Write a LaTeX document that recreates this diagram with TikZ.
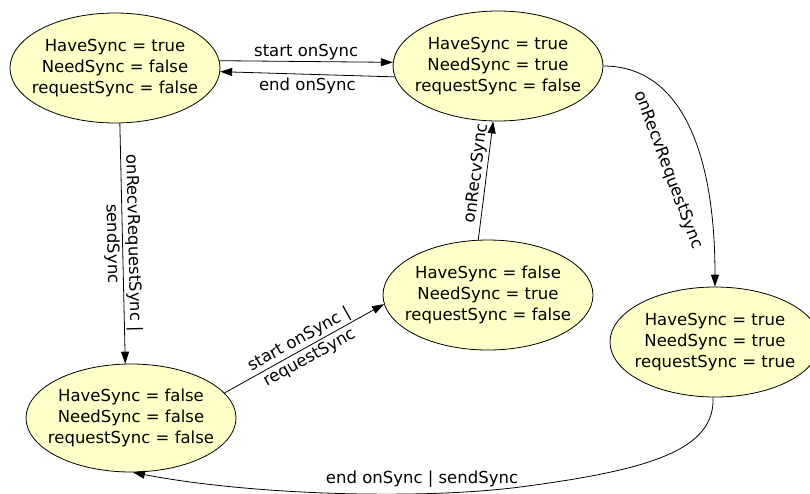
\documentclass[tikz,border=0pt]{standalone}
\usepackage{fontspec}
\setmainfont{DejaVu Sans}
\usetikzlibrary{shapes.geometric,arrows.meta}
\definecolor{statefill}{RGB}{255,255,200}
\begin{document}
\begin{tikzpicture}[x=1pt,y=-1pt,
  every node/.style={font=\fontsize{16.5}{21}\selectfont},
  state/.style={ellipse,draw,line width=0.8pt,fill=statefill,
    minimum width=210pt,minimum height=110pt,inner xsep=-14pt,inner ysep=0pt,align=center},
  trans/.style={draw,line width=0.8pt,-{Triangle[length=12pt,width=8pt]}},
  lbl/.style={inner sep=1.5pt,align=center}]
\useasboundingbox (0,0) rectangle (810,493);
\clip (0,0) rectangle (810,493);

% states
\node[state] (A) at (115,68)  {HaveSync = true\\NeedSync = false\\requestSync = false};
\node[state] (B) at (498,66)  {HaveSync = true\\NeedSync = true\\requestSync = false};
\node[state] (C) at (488,295) {HaveSync = false\\NeedSync = true\\requestSync = false};
\node[state] (D) at (715,342) {HaveSync = true\\NeedSync = true\\requestSync = true};
\node[state,minimum height=108pt] (E) at (131,418) {HaveSync = false\\NeedSync = false\\requestSync = false};

% transitions
\draw[trans] (A.4) -- node[lbl,above] (lAB) {start onSync} (B.178);
\draw[trans] (B.186) -- node[lbl,below,inner sep=3pt] (lBA) {end onSync} (A.-2);
\draw[trans] (A.-85) -- node[lbl,sloped] (lAE) {onRecvRequestSync |\\sendSync} (E.96);
\draw[trans] (E.15) -- node[lbl,sloped] (lEC) {start onSync |\\requestSync} (C.185);
\draw[trans] (C.100) -- node[lbl,sloped,above,pos=0.55] (lCB) {onRecvSync} (B.-95);
\draw[trans] (B.east) .. controls (680,66) and (715,150) .. (D.north);
\node[lbl,rotate=-69.4] (lBD) at (668,170) {onRecvRequestSync};
\draw[trans] (D.-92) .. controls (715,450) and (650,470) .. (520,487)
  .. controls (420,500) and (250,495) .. (E.-88);
\node[lbl] (lDE) at (422,479) {end onSync | sendSync};
\end{tikzpicture}
\end{document}
